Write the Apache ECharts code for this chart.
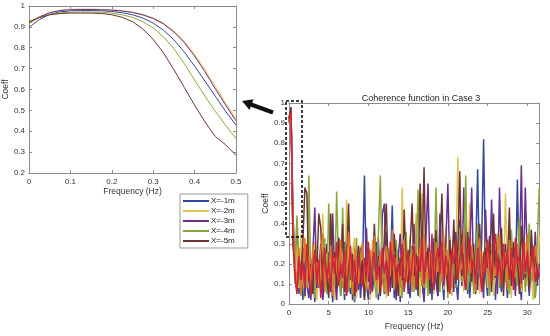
<!DOCTYPE html>
<html><head><meta charset="utf-8">
<script src="https://cdn.jsdelivr.net/npm/echarts@6/dist/echarts.min.js"></script>
<style>html,body{margin:0;padding:0;background:#fff}#c{width:550px;height:336px}</style>
</head><body><div id="c"></div>
<script>
// ---------- data ----------
const seriesNames = ['X=-1m','X=-2m','X=-3m','X=-4m','X=-5m'];
const colors = ['#33479f','#e3c150','#6b2f8c','#8aa83a','#6e3434'];
const extraColors = ['#e0782a','#d0243c'];

// zoomed plot (0 - 0.5 Hz)
const zoomFreq = [0,0.025,0.05,0.075,0.1,0.125,0.15,0.175,0.2,0.225,0.25,0.275,0.3,0.325,0.35,0.375,0.4,0.425,0.45,0.475,0.5];
const zoomX1 = [0.898,0.935,0.960,0.972,0.977,0.978,0.978,0.977,0.974,0.968,0.958,0.942,0.918,0.884,0.838,0.780,0.712,0.640,0.568,0.495,0.430];
const zoomX2 = [0.915,0.945,0.968,0.980,0.984,0.985,0.985,0.984,0.982,0.978,0.971,0.960,0.943,0.918,0.880,0.830,0.768,0.695,0.615,0.535,0.460];
const zoomX3 = [0.918,0.948,0.968,0.978,0.982,0.983,0.983,0.982,0.980,0.976,0.969,0.957,0.940,0.914,0.875,0.825,0.760,0.685,0.603,0.525,0.450];
const zoomX4 = [0.922,0.945,0.960,0.967,0.970,0.971,0.971,0.970,0.966,0.958,0.945,0.925,0.895,0.852,0.795,0.725,0.645,0.568,0.495,0.428,0.365];
const zoomX5 = [0.925,0.945,0.958,0.964,0.966,0.966,0.966,0.964,0.958,0.946,0.925,0.890,0.840,0.775,0.695,0.610,0.525,0.445,0.375,0.335,0.285];

// full plot (0 - 31.5 Hz, 0.25 Hz step)
const fullStep = 0.25;
const fullX1 = [.90,.96,.43,.12,.42,.05,.18,.02,.25,.10,.03,.22,.15,.01,.28,.08,.19,.02,.12,.30,.06,.14,.01,.21,.09,.33,.04,.16,.02,.27,.11,.05,.20,.01,.13,.24,.03,.18,.64,.10,.02,.26,.07,.15,.31,.02,.12,.22,.05,.36,.09,.18,.49,.03,.14,.27,.01,.19,.08,.24,.12,.03,.29,.10,.17,.04,.33,.12,.01,.21,.08,.26,.02,.33,.11,.04,.23,.14,.02,.30,.09,.18,.05,.27,.13,.02,.22,.35,.07,.16,.28,.03,.19,.10,.25,.67,.12,.30,.82,.15,.04,.26,.09,.20,.02,.31,.13,.06,.24,.18,.03,.28,.11,.20,.07,.62,.14,.02,.25,.09,.19,.04,.29,.12,.03,.21,.16];
const fullX2 = [.92,.98,.46,.20,.30,.08,.35,.14,.03,.27,.40,.06,.18,.31,.02,.22,.12,.45,.09,.25,.04,.33,.16,.02,.28,.11,.21,.37,.05,.52,.19,.08,.26,.33,.03,.17,.29,.10,.06,.24,.14,.02,.32,.11,.20,.05,.27,.15,.38,.03,.22,.12,.30,.07,.18,.26,.04,.58,.13,.23,.06,.34,.10,.21,.45,.16,.03,.55,.19,.08,.30,.14,.24,.05,.36,.11,.20,.28,.07,.39,.15,.25,.04,.31,.18,.73,.12,.27,.06,.40,.16,.50,.09,.23,.14,.34,.05,.26,.13,.42,.08,.21,.30,.04,.17,.27,.11,.35,.07,.55,.15,.24,.03,.29,.12,.20,.38,.06,.18,.31,.09,.23,.14,.02,.27,.16,.34];
const fullX3 = [.92,.98,.45,.15,.06,.22,.10,.28,.04,.19,.12,.02,.25,.48,.08,.17,.30,.03,.21,.11,.26,.06,.45,.14,.02,.23,.09,.18,.31,.05,.14,.24,.02,.12,.20,.07,.28,.15,.03,.38,.11,.19,.06,.27,.13,.33,.04,.45,.50,.10,.21,.06,.29,.14,.02,.23,.35,.09,.18,.27,.05,.22,.13,.40,.07,.19,.28,.11,.03,.34,.60,.16,.08,.25,.13,.04,.45,.19,.10,.31,.60,.14,.22,.06,.36,.17,.42,.09,.58,.20,.05,.26,.58,.12,.24,.07,.33,.15,.03,.47,.19,.10,.52,.16,.27,.05,.58,.21,.11,.30,.08,.38,.14,.24,.04,.29,.18,.69,.12,.58,.22,.06,.31,.15,.36,.09,.20];
const fullX4 = [.92,.97,.36,.10,.44,.20,.04,.16,.27,.08,.64,.12,.22,.03,.29,.15,.07,.24,.33,.05,.50,.13,.20,.09,.56,.17,.04,.48,.12,.30,.06,.21,.14,.02,.33,.11,.19,.26,.05,.16,.30,.08,.22,.12,.03,.35,.64,.10,.18,.05,.28,.14,.21,.07,.32,.12,.24,.03,.19,.36,.09,.17,.27,.06,.22,.57,.13,.30,.08,.20,.04,.26,.15,.09,.58,.17,.06,.29,.12,.22,.03,.34,.14,.25,.08,.19,.38,.11,.23,.64,.07,.18,.28,.05,.21,.40,.13,.24,.09,.31,.16,.04,.27,.12,.20,.35,.08,.17,.29,.11,.23,.05,.37,.14,.20,.09,.43,.16,.26,.06,.22,.40,.11,.18,.03,.30,.58];
const fullX5 = [.93,.97,.29,.18,.07,.24,.13,.31,.58,.55,.11,.20,.05,.27,.16,.45,.38,.09,.22,.14,.03,.45,.18,.26,.08,.33,.15,.40,.06,.21,.50,.12,.25,.04,.17,.29,.10,.22,.02,.19,.28,.07,.15,.40,.11,.24,.05,.20,.31,.50,.13,.26,.08,.35,.17,.04,.23,.12,.47,.19,.09,.30,.50,.14,.25,.07,.60,.21,.68,.16,.28,.05,.23,.12,.37,.08,.26,.55,.15,.22,.06,.32,.18,.42,.10,.27,.66,.14,.25,.07,.36,.19,.11,.30,.05,.23,.40,.16,.09,.28,.18,.34,.06,.45,.13,.25,.17,.38,.04,.27,.20,.48,.09,.31,.16,.24,.05,.39,.22,.13,.29,.08,.37,.19,.27,.12,.15];
const fullExtraA = [.90,.95,.38,.22,.10,.28,.05,.17,.33,.12,.24,.07,.30,.15,.21,.09,.27,.35,.06,.19,.13,.29,.04,.23,.17,.11,.32,.08,.25,.14,.36,.20,.05,.28,.16,.10,.24,.31,.13,.07,.21,.27,.15,.34,.09,.18,.25,.12,.06,.29,.20,.14,.37,.10,.23,.16,.08,.26,.32,.11,.19,.24,.06,.30,.15,.21,.28,.09,.35,.18,.12,.26,.20,.07,.31,.16,.23,.11,.34,.14,.27,.19,.08,.25,.30,.13,.21,.17,.36,.10,.24,.15,.29,.20,.06,.27,.33,.12,.22,.16,.31,.09,.25,.19,.14,.28,.34,.11,.21,.26,.07,.32,.17,.23,.13,.30,.20,.08,.27,.15,.35,.18,.24,.12,.29,.21,.16];
const fullExtraB = [.91,.96,.33,.14,.05,.24,.12,.21,.08,.30,.15,.04,.19,.26,.10,.22,.03,.18,.28,.12,.21,.07,.25,.15,.31,.09,.20,.13,.27,.04,.18,.29,.11,.22,.06,.25,.16,.09,.23,.14,.31,.05,.20,.26,.12,.19,.08,.28,.15,.22,.04,.31,.18,.25,.09,.20,.14,.30,.06,.17,.27,.11,.21,.29,.08,.24,.16,.33,.10,.26,.19,.12,.35,.07,.22,.28,.15,.31,.09,.24,.18,.05,.27,.20,.32,.12,.23,.30,.14,.08,.25,.33,.17,.22,.10,.28,.19,.06,.26,.15,.32,.21,.11,.27,.35,.13,.22,.09,.30,.18,.25,.12,.28,.07,.33,.20,.24,.10,.31,.16,.26,.13,.22,.29,.11,.19,.14];

const zoomTicksX = [0,0.5,0.1];   // min, max, interval
const zoomTicksY = [0.2,1,0.1];
const fullTicksX = [0,31.5,5];
const fullTicksY = [0,1,0.1];
const titleText = 'Coherence function in Case 3';
const xName = 'Frequency (Hz)';
const yName = 'Coeff';

// ---------- chart ----------
const FONT = 'Liberation Sans, Arial, sans-serif';
const AX = '#8c8c8c';
const chart = echarts.init(document.getElementById('c'), null, {renderer:'canvas'});

function pairs(xs, ys){ return ys.map((v,i)=>[xs[i], v]); }
const fullFreq = fullX1.map((_,i)=>i*fullStep);

function mkX(gi, t, withLabels, pos){
  return {type:'value', gridIndex:gi, min:t[0], max:t[1], interval:t[2], position:pos,
    name: withLabels ? xName : '', nameLocation:'middle', nameGap: gi===0?13:16,
    nameTextStyle:{fontFamily:FONT, fontSize:8.5, color:'#333'},
    axisLine:{show:true, onZero:false, lineStyle:{color:AX, width:1}},
    axisTick:{show:true, inside:true, length:3, lineStyle:{color:AX}},
    axisLabel:{show:withLabels, fontFamily:FONT, fontSize:8, color:'#333', margin:5},
    splitLine:{show:false}};
}
function mkY(gi, t, withLabels, pos){
  return {type:'value', gridIndex:gi, min:t[0], max:t[1], interval:t[2], position:pos,
    name: withLabels ? yName : '', nameLocation:'middle', nameGap: gi===0?15:19,
    nameTextStyle:{fontFamily:FONT, fontSize:8.5, color:'#333'},
    axisLine:{show:true, onZero:false, lineStyle:{color:AX, width:1}},
    axisTick:{show:true, inside:true, length:3, lineStyle:{color:AX}},
    axisLabel:{show:withLabels, fontFamily:FONT, fontSize:8, color:'#333', margin:4},
    splitLine:{show:false}};
}

const zoomY = [zoomX1,zoomX2,zoomX3,zoomX4,zoomX5];
const fullY = [fullX1,fullX2,fullX3,fullX4,fullX5];
const series = [];
zoomY.forEach((ys,k)=>series.push({name:seriesNames[k], type:'line', xAxisIndex:0, yAxisIndex:0,
  data:pairs(zoomFreq, ys), showSymbol:false, smooth:false, color:colors[k],
  lineStyle:{width:1, color:colors[k]}, animation:false}));
fullY.forEach((ys,k)=>series.push({name:seriesNames[k], type:'line', xAxisIndex:2, yAxisIndex:2,
  data:pairs(fullFreq, ys), showSymbol:false, color:colors[k],
  lineStyle:{width:1.5, color:colors[k]}, animation:false}));
[fullExtraA, fullExtraB].forEach((ys,k)=>series.push({name:'extra'+k, type:'line', xAxisIndex:2, yAxisIndex:2,
  data:pairs(fullFreq, ys), showSymbol:false, color:extraColors[k],
  lineStyle:{width:1.5, color:extraColors[k]}, animation:false}));

chart.setOption({
  backgroundColor:'#fff',
  animation:false,
  title:{text:titleText, left:416, top:89, textAlign:'center',
    textStyle:{fontFamily:FONT, fontSize:9, fontWeight:'normal', color:'#222'}},
  grid:[{left:25, top:6, width:211, height:167},
        {left:289, top:103, width:254, height:203}],
  xAxis:[mkX(0,zoomTicksX,true,'bottom'), mkX(0,zoomTicksX,false,'top'),
         mkX(1,fullTicksX,true,'bottom'), mkX(1,fullTicksX,false,'top')],
  yAxis:[mkY(0,zoomTicksY,true,'left'), mkY(0,zoomTicksY,false,'right'),
         mkY(1,fullTicksY,true,'left'), mkY(1,fullTicksY,false,'right')],
  legend:{data:seriesNames, orient:'vertical', left:180, top:194, itemWidth:26, itemHeight:2,
    itemGap:0, icon:'rect', padding:[2,13,2,3], backgroundColor:'#fff', borderColor:'#999', borderWidth:1,
    borderRadius:0, textStyle:{fontFamily:FONT, fontSize:8, color:'#222', lineHeight:10, padding:[0,0,0,-3]}},
  series:series,
  graphic:[
    {type:'rect', shape:{x:286, y:101, width:16, height:136}, z:100,
     style:{fill:'none', stroke:'#000', lineWidth:1.5, lineDash:[3,2]}},
    {type:'line', shape:{x1:251, y1:104.5, x2:273, y2:112.5}, z:100,
     style:{stroke:'#111', lineWidth:4}},
    {type:'polygon', shape:{points:[[242,101],[253.5,99.2],[249.5,110]]}, z:100,
     style:{fill:'#111'}}
  ]
});
</script></body></html>
